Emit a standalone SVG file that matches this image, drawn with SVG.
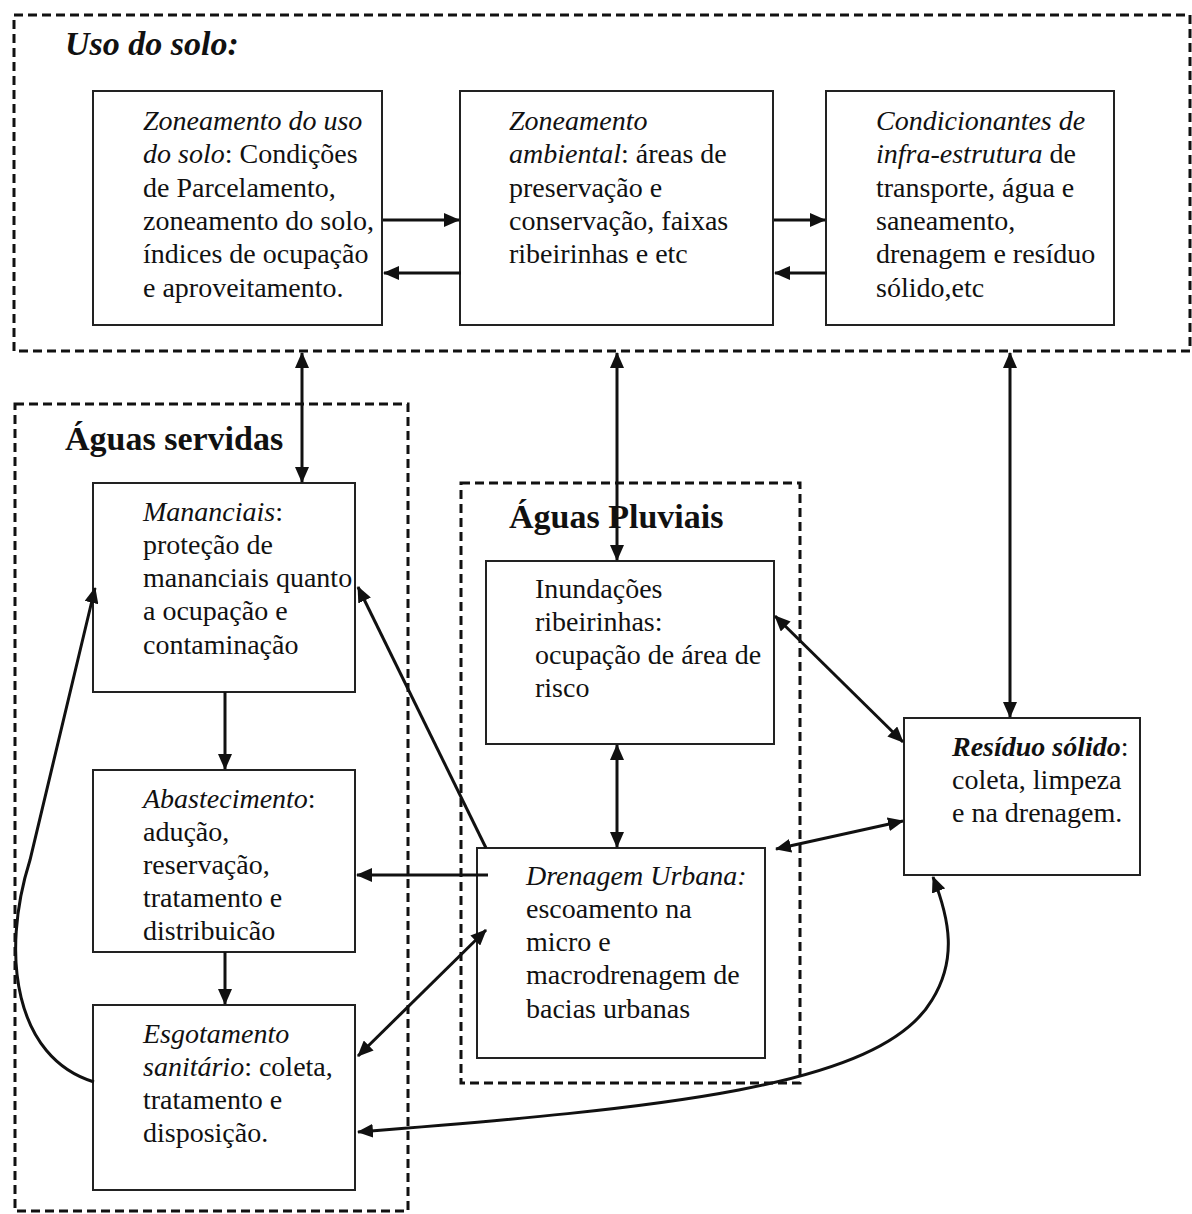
<svg xmlns="http://www.w3.org/2000/svg" width="1192" height="1214" viewBox="0 0 1192 1214">
<style>
.bg{fill:#fff}
.box{fill:#fff;stroke:#222;stroke-width:2}
.dash{fill:none;stroke:#111;stroke-width:3;stroke-dasharray:9 5}
.t{font-family:"Liberation Serif","Times New Roman",serif;font-size:28px;fill:#111}
.i{font-style:italic}
.title{font-family:"Liberation Serif","Times New Roman",serif;font-size:34px;font-weight:bold;fill:#111}
.conn{fill:none;stroke:#111;stroke-width:3}
</style>
<defs>
<marker id="ah" markerUnits="userSpaceOnUse" markerWidth="16" markerHeight="14" refX="15" refY="7" orient="auto-start-reverse" viewBox="0 0 16 14">
<path d="M0,0 L16,7 L0,14 z" fill="#111"/>
</marker>
</defs>
<rect class="bg" x="0" y="0" width="1192" height="1214"/>

<g id="grp-uso-do-solo">
<rect class="dash" x="14" y="15" width="1176" height="336"/>
<text class="title i" x="65" y="55">Uso do solo:</text>
</g>
<g id="grp-aguas-servidas">
<rect class="dash" x="15" y="404" width="393" height="807"/>
<text class="title" x="65" y="450">Águas servidas</text>
</g>
<g id="grp-aguas-pluviais">
<rect class="dash" x="461" y="483" width="339" height="600"/>
<text class="title" x="509" y="528">Águas Pluviais</text>
</g>

<g id="node-zoneamento-uso">
<rect class="box" x="93" y="91" width="289" height="234"/>
<text class="t" x="143" y="130"><tspan class="i">Zoneamento do uso</tspan></text>
<text class="t" x="143" y="163"><tspan class="i">do solo</tspan>: Condições</text>
<text class="t" x="143" y="197">de Parcelamento,</text>
<text class="t" x="143" y="230">zoneamento do solo,</text>
<text class="t" x="143" y="263">índices de ocupação</text>
<text class="t" x="143" y="297">e aproveitamento.</text>
</g>
<g id="node-zoneamento-ambiental">
<rect class="box" x="460" y="91" width="313" height="234"/>
<text class="t" x="509" y="130"><tspan class="i">Zoneamento</tspan></text>
<text class="t" x="509" y="163"><tspan class="i">ambiental</tspan>: áreas de</text>
<text class="t" x="509" y="197">preservação e</text>
<text class="t" x="509" y="230">conservação, faixas</text>
<text class="t" x="509" y="263">ribeirinhas e etc</text>
</g>
<g id="node-condicionantes">
<rect class="box" x="826" y="91" width="288" height="234"/>
<text class="t" x="876" y="130"><tspan class="i">Condicionantes de</tspan></text>
<text class="t" x="876" y="163"><tspan class="i">infra-estrutura</tspan> de</text>
<text class="t" x="876" y="197">transporte, água e</text>
<text class="t" x="876" y="230">saneamento,</text>
<text class="t" x="876" y="263">drenagem e resíduo</text>
<text class="t" x="876" y="297">sólido,etc</text>
</g>

<g id="node-mananciais">
<rect class="box" x="93" y="483" width="262" height="209"/>
<text class="t" x="143" y="521"><tspan class="i">Mananciais</tspan>:</text>
<text class="t" x="143" y="554">proteção de</text>
<text class="t" x="143" y="587">mananciais quanto</text>
<text class="t" x="143" y="620">a ocupação e</text>
<text class="t" x="143" y="654">contaminação</text>
</g>
<g id="node-abastecimento">
<rect class="box" x="93" y="770" width="262" height="182"/>
<text class="t" x="143" y="808"><tspan class="i">Abastecimento</tspan>:</text>
<text class="t" x="143" y="841">adução,</text>
<text class="t" x="143" y="874">reservação,</text>
<text class="t" x="143" y="907">tratamento e</text>
<text class="t" x="143" y="940">distribuicão</text>
</g>
<g id="node-esgotamento">
<rect class="box" x="93" y="1005" width="262" height="185"/>
<text class="t" x="143" y="1043"><tspan class="i">Esgotamento</tspan></text>
<text class="t" x="143" y="1076"><tspan class="i">sanitário</tspan>: coleta,</text>
<text class="t" x="143" y="1109">tratamento e</text>
<text class="t" x="143" y="1142">disposição.</text>
</g>
<g id="node-inundacoes">
<rect class="box" x="486" y="561" width="288" height="183"/>
<text class="t" x="535" y="598">Inundações</text>
<text class="t" x="535" y="631">ribeirinhas:</text>
<text class="t" x="535" y="664">ocupação de área de</text>
<text class="t" x="535" y="697">risco</text>
</g>
<g id="node-drenagem">
<rect class="box" x="477" y="848" width="288" height="210"/>
<text class="t" x="526" y="885"><tspan class="i">Drenagem Urbana:</tspan></text>
<text class="t" x="526" y="918">escoamento na</text>
<text class="t" x="526" y="951">micro e</text>
<text class="t" x="526" y="984">macrodrenagem de</text>
<text class="t" x="526" y="1018">bacias urbanas</text>
</g>
<g id="node-residuo">
<rect class="box" x="904" y="718" width="236" height="157"/>
<text class="t" x="952" y="756"><tspan class="i" font-weight="bold">Resíduo sólido</tspan>:</text>
<text class="t" x="952" y="789">coleta, limpeza</text>
<text class="t" x="952" y="822">e na drenagem.</text>
</g>

<g id="connectors">
<line class="conn" x1="383" y1="220" x2="459" y2="220" marker-end="url(#ah)"/>
<line class="conn" x1="461" y1="273" x2="384" y2="273" marker-end="url(#ah)"/>
<line class="conn" x1="774" y1="220" x2="825" y2="220" marker-end="url(#ah)"/>
<line class="conn" x1="827" y1="273" x2="775" y2="273" marker-end="url(#ah)"/>
<line class="conn" x1="302" y1="353" x2="302" y2="482" marker-start="url(#ah)" marker-end="url(#ah)"/>
<line class="conn" x1="617" y1="353" x2="617" y2="560" marker-start="url(#ah)" marker-end="url(#ah)"/>
<line class="conn" x1="1010" y1="353" x2="1010" y2="717" marker-start="url(#ah)" marker-end="url(#ah)"/>
<line class="conn" x1="225" y1="692" x2="225" y2="769" marker-end="url(#ah)"/>
<line class="conn" x1="225" y1="952" x2="225" y2="1004" marker-end="url(#ah)"/>
<line class="conn" x1="617" y1="745" x2="617" y2="847" marker-start="url(#ah)" marker-end="url(#ah)"/>
<line class="conn" x1="775" y1="616" x2="903" y2="742" marker-start="url(#ah)" marker-end="url(#ah)"/>
<line class="conn" x1="776" y1="849" x2="903" y2="821" marker-start="url(#ah)" marker-end="url(#ah)"/>
<line class="conn" x1="488" y1="875" x2="357" y2="875" marker-end="url(#ah)"/>
<line class="conn" x1="486" y1="930" x2="358" y2="1056" marker-start="url(#ah)" marker-end="url(#ah)"/>
<line class="conn" x1="486" y1="848" x2="358" y2="587" marker-end="url(#ah)"/>
<path class="conn" d="M94,1082 C15,1058 0,955 30,860 L95,588" marker-end="url(#ah)"/>
<path class="conn" d="M358,1132 C660,1108 880,1088 932,1000 C957,960 950,920 933,877" marker-start="url(#ah)" marker-end="url(#ah)"/>
</g>
</svg>
